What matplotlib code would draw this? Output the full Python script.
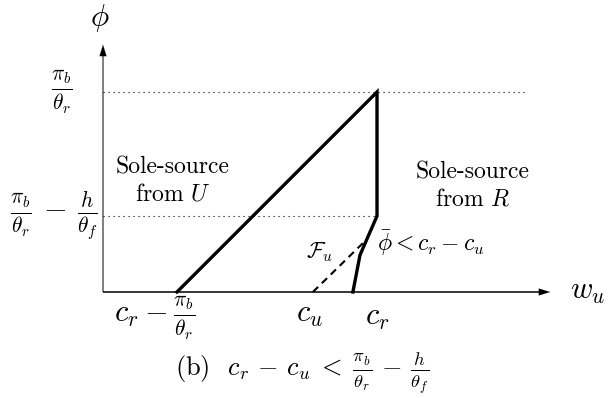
import matplotlib
matplotlib.use("Agg")
import matplotlib.pyplot as plt

plt.rcParams['mathtext.fontset'] = 'cm'
plt.rcParams['font.family'] = 'cmr10'
plt.rcParams['axes.unicode_minus'] = False

# x positions on the w_u axis (units: c_r peak column = 1)
x_left = 0.27      # c_r - pi_b/theta_r
x_cu = 0.766       # c_u
x_foot = 0.912     # lower end of the R boundary
x_peak = 1.0
# phi levels
phi_top = 1.0      # pi_b/theta_r
phi_mid = 0.38     # pi_b/theta_r - h/theta_f
phi_kink = 0.185   # phi bar

# boundary between the two sole-source regions
bound_x = [x_left, x_peak, x_peak, 0.938, x_foot]
bound_y = [0.0, phi_top, phi_mid, phi_kink, 0.0]
# F_u curve
fu_x = [x_cu, 0.949]
fu_y = [0.0, 0.245]

fig = plt.figure(figsize=(6.13, 3.98), dpi=100)
ax = fig.add_axes([0, 0, 1, 1])
ax.set_xlim(-103 / 274, 510 / 274)
ax.set_ylim(-106 / 200, 292 / 200)
ax.axis('off')

x_end = 1.642
y_end = 1.25

# axes with arrow heads
ax.plot([0, 0], [0, y_end - 0.04], color='#7f7f7f', lw=1.4, solid_capstyle='butt')
ax.annotate('', xy=(0, y_end), xytext=(0, y_end - 0.06),
            arrowprops=dict(arrowstyle='-|>,head_length=0.8,head_width=0.25',
                            color='black', lw=0.1))
ax.plot([0, x_end - 0.03], [0, 0], color='black', lw=1.1, solid_capstyle='butt')
ax.annotate('', xy=(x_end, 0), xytext=(x_end - 0.05, 0),
            arrowprops=dict(arrowstyle='-|>,head_length=0.8,head_width=0.25',
                            color='black', lw=0.1))

# reference levels
ax.plot([0, 1.54], [phi_top, phi_top], color='black', lw=0.8, ls=(0, (1, 3.5)))
ax.plot([0, x_peak], [phi_mid, phi_mid], color='black', lw=0.8, ls=(0, (1, 3.5)))

ax.plot(bound_x, bound_y, color='black', lw=2.4, solid_joinstyle='miter')
ax.plot(fu_x, fu_y, color='black', lw=1.5, ls=(0, (3.5, 2.5)))

# labels
ax.text(-0.011, 1.37, r'$\phi$', fontsize=22, ha='center', va='center')
ax.text(1.77, 0.0, r'$w_u$', fontsize=22, ha='center', va='center')
ax.text(-0.15, phi_top, r'$\frac{\pi_b}{\theta_r}$', fontsize=22, ha='center', va='center')
ax.text(-0.18, phi_mid, r'$\frac{\pi_b}{\theta_r}\,-\,\frac{h}{\theta_f}$', fontsize=22,
        ha='center', va='center')
ax.text(0.19, -0.13, r'$c_r-\frac{\pi_b}{\theta_r}$', fontsize=22, ha='center', va='center')
ax.text(0.755, -0.115, r'$c_u$', fontsize=22, ha='center', va='center')
ax.text(1.0, -0.13, r'$c_r$', fontsize=22, ha='center', va='center')

ax.text(0.255, 0.555, 'Sole-source\nfrom $U$', fontsize=17, ha='center', va='center',
        linespacing=1.25)
ax.text(1.35, 0.53, 'Sole-source\nfrom $R$', fontsize=17, ha='center', va='center',
        linespacing=1.25)
ax.text(1.0, 0.245, r'$\bar{\phi}<c_r-c_u$', fontsize=17, ha='left', va='center')
ax.text(0.79, 0.20, r'$\mathcal{F}_u$', fontsize=16, ha='center', va='center')

ax.text(0.727, -0.405,
        r'(b)  $c_r\,-\,c_u\;<\;\frac{\pi_b}{\theta_r}\,-\,\frac{h}{\theta_f}$',
        fontsize=19, ha='center', va='center')

fig.savefig('out.png', dpi=100)
